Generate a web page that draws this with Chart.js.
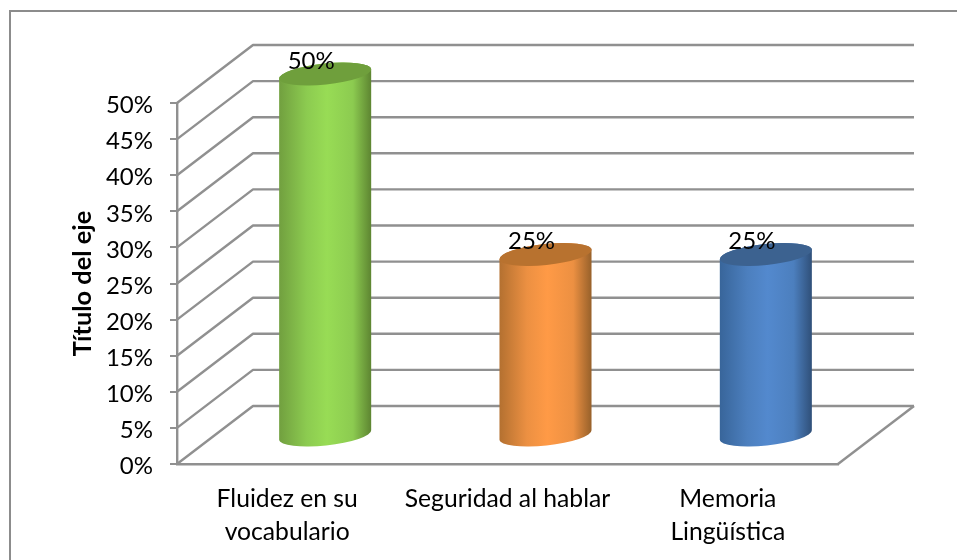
<!DOCTYPE html>
<html><head><meta charset="utf-8">
<style>html,body{margin:0;padding:0;background:#fff}#w{position:relative;width:957px;height:560px}canvas{display:block}</style>
<script src="https://cdn.jsdelivr.net/npm/chart.js@4"></script>
</head><body><div id="w"><canvas id="c" width="957" height="560"></canvas></div>
<script>
const categories = [["Fluidez en su","vocabulario"],["Seguridad al hablar"],["Memoria","Lingüística"]];
const values = [50,25,25];
const barColors = ["#98dc55","#ff9a46","#5389ce"];
const topColors = ["#6f9f3c","#b8722f","#3c6290"];
const leftEdgeColors = ["#719f3f","#b37030","#38659a"];
const rightEdgeColors = ["#5d8431","#96602a","#2f4f78"];
const midColors = ["#8ccb50","#ec9042","#4c7fbe"];
const axisTitle = "Título del eje";

const FONT = "Lato, Carlito, 'Open Sans', sans-serif";
const GRID = "#909090";
const DEPTH_X = 76, DEPTH_Y = 58;

const scene3d = {
  id:"scene3d",
  beforeDraw(chart){
    const ctx=chart.ctx;
    ctx.save();ctx.fillStyle="#fff";ctx.fillRect(0,0,chart.width,chart.height);
    ctx.strokeStyle="#8c8c8c";ctx.lineWidth=2;
    ctx.beginPath();ctx.moveTo(10,560);ctx.lineTo(10,11);ctx.lineTo(957,11);ctx.stroke();
    ctx.restore();
    if(!chart.$shifted){
      chart.scales.y.getLabelItems(chart.chartArea).forEach(it=>{it.options.translation[1]+=2.5;});
      chart.$shifted=true;
    }
  },
  beforeDatasetsDraw(chart){
    const {ctx,scales:{y},chartArea:a}=chart;
    ctx.save();ctx.strokeStyle=GRID;ctx.lineWidth=2.4;ctx.lineJoin="round";
    y.ticks.forEach(t=>{
      const py=y.getPixelForValue(t.value);
      ctx.beginPath();ctx.moveTo(a.left,py);ctx.lineTo(a.left+DEPTH_X,py-DEPTH_Y);ctx.lineTo(a.right+DEPTH_X,py-DEPTH_Y);ctx.stroke();
    });
    const b=y.getPixelForValue(0);
    ctx.beginPath();ctx.moveTo(a.right,b);ctx.lineTo(a.right+DEPTH_X,b-DEPTH_Y);ctx.stroke();
    ctx.restore();
  },
  beforeDatasetDraw(chart,args){
    const {ctx,scales:{y}}=chart;
    const meta=args.meta;
    const tilt=-0.105, ry=10.5;
    meta.data.forEach((el,i)=>{
      const rx=el.width/2, cx=el.x+DEPTH_X/2, yt=el.y-DEPTH_Y/2, yb=y.getPixelForValue(0)-DEPTH_Y/2;
      const dy=rx*Math.sin(tilt);
      ctx.save();
      const g=ctx.createLinearGradient(cx-rx,0,cx+rx,0);
      g.addColorStop(0,leftEdgeColors[i]);g.addColorStop(0.3,midColors[i]);g.addColorStop(0.52,barColors[i]);
      g.addColorStop(0.8,midColors[i]);g.addColorStop(1,rightEdgeColors[i]);
      ctx.fillStyle=g;
      ctx.beginPath();
      ctx.ellipse(cx,yb,rx,ry,tilt,Math.PI,0,true);
      ctx.lineTo(cx+rx*Math.cos(tilt),yt+dy);
      ctx.ellipse(cx,yt,rx,ry,tilt,0,Math.PI,true);
      ctx.closePath();ctx.fill();
      ctx.fillStyle=topColors[i];
      ctx.beginPath();ctx.ellipse(cx,yt,rx,ry,tilt,0,Math.PI*2);ctx.fill();
      ctx.fillStyle="#000";ctx.font="24px "+FONT;ctx.textAlign="center";ctx.textBaseline="middle";
      ctx.fillText(values[i]+"%",cx-14,yt-13);
      ctx.restore();
    });
    return false;
  }
};

new Chart(document.getElementById("c"),{
  type:"bar",
  data:{labels:categories,datasets:[{label:"Serie 1",data:values,backgroundColor:barColors,barPercentage:0.42,categoryPercentage:1}]},
  plugins:[scene3d],
  options:{
    responsive:false,animation:false,
    layout:{padding:{left:68,top:103,right:119,bottom:0}},
    plugins:{legend:{display:false},tooltip:{enabled:false}},
    scales:{
      x:{
        grid:{display:false,drawTicks:false},
        border:{color:GRID,width:2.4},
        ticks:{color:"#000",font:{family:FONT,size:24.7,lineHeight:1.33},maxRotation:0,autoSkip:false,padding:19},
        afterFit(s){s.height=96;}
      },
      y:{
        min:0,max:50,
        grid:{drawOnChartArea:false,color:GRID,lineWidth:2,tickLength:7},
        border:{color:GRID,width:2.4},
        ticks:{stepSize:5,color:"#000",padding:17,font:{family:FONT,size:24},callback:v=>v+"%"},
        title:{display:true,text:axisTitle,color:"#000",font:{family:FONT,size:25.4,weight:"bold"},padding:0},
        afterFit(s){s.width=109;}
      }
    }
  }
});
</script></body></html>
